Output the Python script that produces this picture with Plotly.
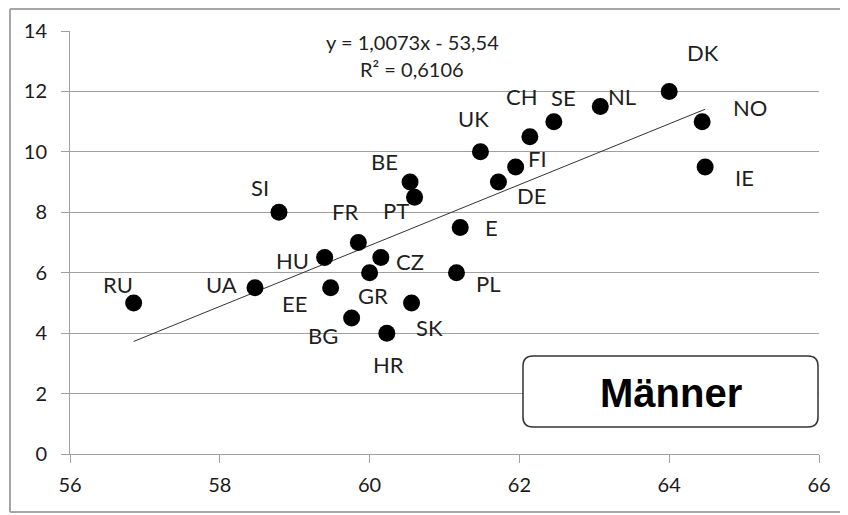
import plotly.graph_objects as go
import numpy as np

# ---- data ----
countries = ["RU", "UA", "SI", "HU", "EE", "BG", "FR", "GR", "CZ", "HR", "BE", "SK",
             "PT", "PL", "E", "UK", "DE", "FI", "CH", "SE", "NL", "DK", "NO", "IE"]
x_vals = [56.85, 58.47, 58.79, 59.40, 59.48, 59.76, 59.85, 60.00, 60.15, 60.23, 60.54, 60.56,
          60.60, 61.16, 61.21, 61.48, 61.72, 61.95, 62.14, 62.46, 63.08, 64.00, 64.44, 64.48]
y_vals = [5.0, 5.5, 8.0, 6.5, 5.5, 4.5, 7.0, 6.0, 6.5, 4.0, 9.0, 5.0,
          8.5, 6.0, 7.5, 10.0, 9.0, 9.5, 10.5, 11.0, 11.5, 12.0, 11.0, 9.5]
trend_slope = 1.0073
trend_intercept = -53.54
equation_text = "y = 1,0073x - 53,54"
r2_text = "R² = 0,6106"
x_ticks = [56, 58, 60, 62, 64, 66]
y_ticks = [0, 2, 4, 6, 8, 10, 12, 14]
box_label = "Männer"

# label offsets in pixels (style): (xshift, yshift)
label_offsets = {
    "RU": (-16, 18), "UA": (-34, 3), "SI": (-19, 25), "HU": (-32, -3), "EE": (-36, -16),
    "BG": (-29, -17), "FR": (-13, 31), "GR": (3, -23), "CZ": (29, -4), "HR": (2, -31),
    "BE": (-26, 21), "SK": (18, -25), "PT": (-19, -13), "PL": (32, -11), "E": (31, 0),
    "UK": (-7, 33), "DE": (33, -13), "FI": (22, 8), "CH": (-8, 40), "SE": (10, 24),
    "NL": (22, 10), "DK": (34, 39), "NO": (48, 14), "IE": (39, -11),
}

fig = go.Figure()

# trend line across data range
x_line = np.array([min(x_vals), max(x_vals)])
y_line = trend_slope * x_line + trend_intercept
fig.add_trace(go.Scatter(x=x_line, y=y_line, mode="lines",
                         line=dict(color="#333333", width=1), hoverinfo="skip",
                         showlegend=False))

fig.add_trace(go.Scatter(x=x_vals, y=y_vals, mode="markers",
                         marker=dict(color="black", size=17, line=dict(width=0)),
                         text=countries, showlegend=False))

label_font = dict(family="Lato, 'Noto Sans', sans-serif", size=22, color="#1f1f1f")
for c, xv, yv in zip(countries, x_vals, y_vals):
    dx, dy = label_offsets[c]
    fig.add_annotation(x=xv, y=yv, text=c, showarrow=False, xshift=dx, yshift=dy,
                       font=label_font, xanchor="center", yanchor="middle")

eq_font = dict(family="Lato, 'Noto Sans', sans-serif", size=20, color="#1f1f1f")
fig.add_annotation(x=60.57, y=13.65, text=equation_text, showarrow=False, font=eq_font,
                   xanchor="center", yanchor="middle")
fig.add_annotation(x=60.57, y=12.74, text=r2_text, showarrow=False, font=eq_font,
                   xanchor="center", yanchor="middle")

# page has an 8px body margin; work in window pixels and convert
OFF = 8
W, H = 848 - OFF, 515 - OFF
L, R, T, B = 70 - OFF, 819 - OFF, 31 - OFF, 454 - OFF
pw, ph = R - L, B - T

def px(wx):
    return (wx - OFF - L) / pw

def py(wy):
    return (B - (wy - OFF)) / ph

# outer border (left, top, bottom; right edge is outside the view)
border = dict(color="#a6a6a6", width=2)
fig.add_shape(type="line", xref="paper", yref="paper", x0=px(10), x1=px(10),
              y0=py(512), y1=py(9), line=border, layer="below")
fig.add_shape(type="line", xref="paper", yref="paper", x0=px(10), x1=px(860),
              y0=py(9), y1=py(9), line=border, layer="below")
fig.add_shape(type="line", xref="paper", yref="paper", x0=px(10), x1=px(860),
              y0=py(512), y1=py(512), line=border, layer="below")

# rounded box
bx0, bx1, by0, by1 = px(523), px(818), py(427), py(356)
rx, ry = 10 / pw, 10 / ph
path = (f"M {bx0+rx},{by1} L {bx1-rx},{by1} Q {bx1},{by1} {bx1},{by1-ry} "
        f"L {bx1},{by0+ry} Q {bx1},{by0} {bx1-rx},{by0} "
        f"L {bx0+rx},{by0} Q {bx0},{by0} {bx0},{by0+ry} "
        f"L {bx0},{by1-ry} Q {bx0},{by1} {bx0+rx},{by1} Z")
fig.add_shape(type="path", xref="paper", yref="paper", path=path,
              line=dict(color="#333333", width=1.5), fillcolor="white", layer="above")
fig.add_annotation(xref="paper", yref="paper", x=px(671), y=py(393), text=f"<b>{box_label}</b>",
                   showarrow=False, xanchor="center", yanchor="middle",
                   font=dict(family="'Liberation Sans', Arial, sans-serif", size=40, color="black"))

axis_gray = "#a0a0a0"
tick_font = dict(family="Lato, 'Noto Sans', sans-serif", size=20, color="#1a1a1a")
fig.update_xaxes(range=[56, 66], tickvals=x_ticks, showgrid=False, zeroline=False,
                 showline=True, linecolor=axis_gray, linewidth=1,
                 ticks="outside", ticklen=8, tickcolor=axis_gray, tickwidth=1,
                 tickfont=tick_font, ticklabelstandoff=5, fixedrange=True)
fig.update_yaxes(range=[0, 14], tickvals=y_ticks, showgrid=True, gridcolor=axis_gray,
                 gridwidth=1, zeroline=False, showline=True, linecolor=axis_gray, linewidth=1,
                 ticks="outside", ticklen=8, tickcolor=axis_gray, tickwidth=1,
                 tickfont=tick_font, ticklabelstandoff=10, fixedrange=True)

fig.update_layout(width=W, height=H, margin=dict(l=L, r=W - R, t=T, b=H - B, autoexpand=False),
                  paper_bgcolor="white", plot_bgcolor="white", showlegend=False)

fig.write_html("out.html")
